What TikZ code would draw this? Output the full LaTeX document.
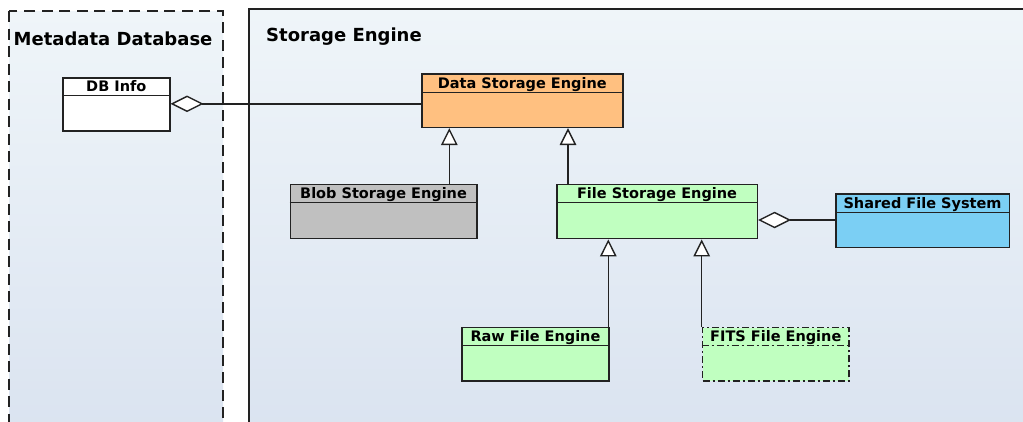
\documentclass[tikz,border=0pt]{standalone}
\usepackage{fontspec}
\setmainfont{DejaVu Sans}
\usetikzlibrary{arrows.meta}
\definecolor{bgtop}{HTML}{EFF5F9}
\definecolor{bgbot}{HTML}{DAE3F0}
\definecolor{lc}{HTML}{222222}
\definecolor{corange}{HTML}{FFC080}
\definecolor{cgrey}{HTML}{C0C0C0}
\definecolor{cgreen}{HTML}{C0FFC0}
\definecolor{cblue}{HTML}{7BCFF4}
\tikzset{
  cls/.style={draw=lc, line width=1.6pt, rectangle, inner sep=0pt, anchor=north west},
  hdr/.style={font=\bfseries\fontsize{14.5}{16}\selectfont, anchor=base, inner sep=0pt},
  ttl/.style={font=\bfseries\fontsize{18}{20}\selectfont, anchor=base west, inner sep=0pt},
  divline/.style={draw=lc, line width=1.5pt},
  gen/.style={draw=lc, line width=1.4pt, -{Triangle[length=17pt,width=16.5pt,fill=white]}},
  agg/.style={draw=lc, line width=1.4pt, {Diamond[length=33pt,width=16.5pt,fill=white]}-},
  dashdot/.style={dash pattern=on 7pt off 3pt on 2pt off 3pt},
}
% name, x, y, width, height, divider y, fill, label, extra style
\newcommand\umlclass[9]{%
  \node[cls, fill=#7, minimum width=#4pt, minimum height=#5pt, #9] (#1) at (#2,#3) {};
  \coordinate (#1-div) at (#2,#6);
  \draw[divline, #9] (#1.west |- #1-div) -- (#1.east |- #1-div);
  \node[hdr] (#1-label) at ([yshift=4pt]#1.north |- #1-div) {#8};
}
\begin{document}
\begin{tikzpicture}[x=1pt,y=-1pt]
\useasboundingbox (0,0) rectangle (1023,421);
\fill[white] (0,0) rectangle (1023,421);
% containers
\draw[draw=lc, line width=1.5pt, dash pattern=on 11pt off 6.5pt, top color=bgtop, bottom color=bgbot]
  (9,11) rectangle (223,440);
\draw[draw=lc, line width=1.5pt, top color=bgtop, bottom color=bgbot]
  (249,9) rectangle (1040,440);
\node[ttl] (t1) at (13.5,45.7) {Metadata Database};
\node[ttl] (t2) at (266,41.5) {Storage Engine};
% classes
\umlclass{dbinfo}{62}{77}{107}{53.3}{95.7}{white}{DB Info}{}
\umlclass{dse}{421}{73}{201}{53.5}{92.3}{corange}{Data Storage Engine}{}
\umlclass{blob}{289.5}{183.8}{186.5}{54}{202.3}{cgrey}{Blob Storage Engine}{}
\umlclass{fse}{556}{183.8}{200.5}{54}{202.3}{cgreen}{File Storage Engine}{}
\umlclass{sfs}{835}{193.3}{173.5}{53.4}{212.3}{cblue}{Shared File System}{}
\umlclass{raw}{461}{326.7}{147.3}{53.3}{345.7}{cgreen}{Raw File Engine}{}
\umlclass{fits}{701.7}{326.7}{146.6}{53.3}{345.7}{cgreen}{FITS File Engine}{dashdot}
% connector columns
\coordinate (c1) at (449.3,0);
\coordinate (c2) at (568,0);
\coordinate (c3) at (608.3,0);
\coordinate (c4) at (701.7,0);
\coordinate (r1) at (0,103.8);
\coordinate (r2) at (0,220);
% connectors
\draw[agg] (dbinfo.east |- r1) -- (dse.west |- r1);
\draw[agg] (fse.east |- r2) -- (sfs.west |- r2);
\draw[gen] (blob.north -| c1) -- (dse.south -| c1);
\draw[gen] (fse.north -| c2) -- (dse.south -| c2);
\draw[gen] (raw.north -| c3) -- (fse.south -| c3);
\draw[gen] (fits.north -| c4) -- (fse.south -| c4);
\end{tikzpicture}
\end{document}
